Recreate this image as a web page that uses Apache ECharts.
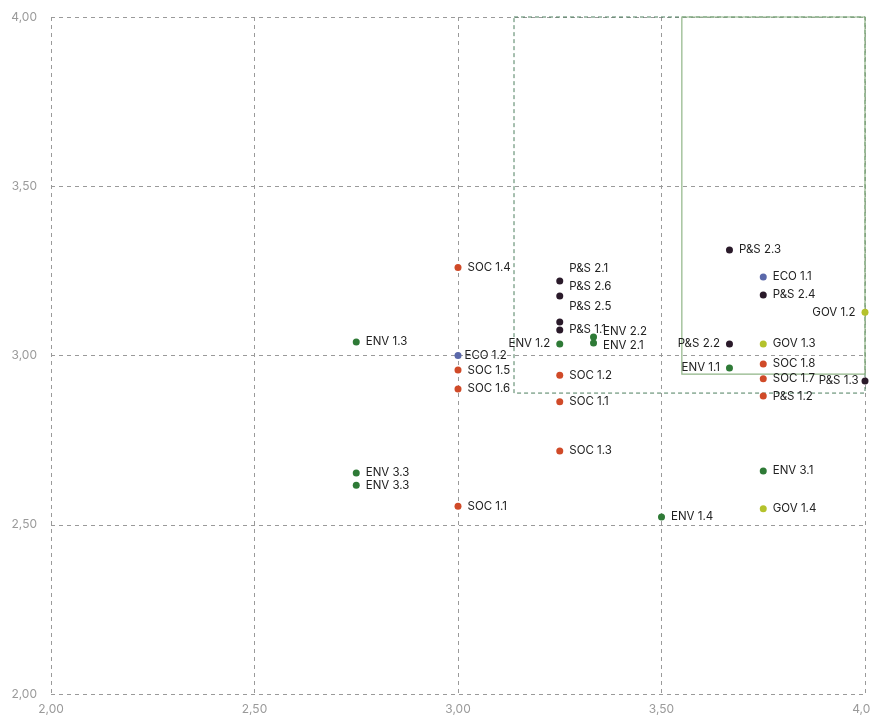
<!DOCTYPE html>
<html><head><meta charset="utf-8">
<script src="https://cdn.jsdelivr.net/npm/echarts@6/dist/echarts.min.js"></script>
<style>html,body{margin:0;padding:0;background:#fff}#c{width:870px;height:717px}</style>
</head><body><div id="c"></div>
<script>
const labels = ['SOC 1.4','P&S 2.1','P&S 2.6','P&S 2.5','P&S 1.1','ENV 1.2','ENV 2.2','ENV 2.1','ECO 1.2','SOC 1.5','SOC 1.6','SOC 1.2','SOC 1.1','SOC 1.3','ENV 1.3','ENV 3.3','ENV 3.3','SOC 1.1','ENV 1.4','ENV 3.1','GOV 1.4','P&S 2.3','ECO 1.1','P&S 2.4','GOV 1.2','P&S 2.2','GOV 1.3','ENV 1.1','SOC 1.8','SOC 1.7','P&S 1.2','P&S 1.3'];
const xValues = [3.00,3.25,3.25,3.25,3.25,3.25,3.333,3.333,3.00,3.00,3.00,3.25,3.25,3.25,2.75,2.75,2.75,3.00,3.50,3.75,3.75,3.667,3.75,3.75,4.00,3.667,3.75,3.667,3.75,3.75,3.75,4.00];
const yValues = [3.26,3.22,3.176,3.099,3.075,3.034,3.055,3.037,3.00,2.957,2.901,2.942,2.863,2.718,3.04,2.653,2.617,2.555,2.523,2.659,2.547,3.312,3.232,3.179,3.128,3.034,3.034,2.963,2.975,2.931,2.88,2.925];
const groups = ['SOC','PS','PS','PS','PS','ENV','ENV','ENV','ECO','SOC','SOC','SOC','SOC','SOC','ENV','ENV','ENV','SOC','ENV','ENV','GOV','PS','ECO','PS','GOV','PS','GOV','ENV','SOC','SOC','SOC','PS'];
const xTicks = [2.0,2.5,3.0,3.5,4.0];
const yTicks = [2.0,2.5,3.0,3.5,4.0];
const dashedBox = [[3.1376,4.0],[4.0,2.889]];
const solidBox = [[3.55,4.0],[4.0,2.945]];

const groupColors = {SOC:'#d04a28',PS:'#2a1a2a',ENV:'#2e7a36',ECO:'#5a68aa',GOV:'#b4c22c'};
// label placement tweaks by index
const labelTweaks = {
  1:{offset:[0,-12]}, 2:{offset:[0,-9]}, 3:{offset:[0,-15]}, 4:{offset:[0,-1]},
  5:{position:'left'}, 6:{offset:[0,-5]}, 7:{offset:[0,3]},
  8:{distance:3},
  24:{position:'left'}, 25:{position:'left'}, 27:{position:'left'}, 31:{position:'left', distance:3}
};
const fmt = v => v.toFixed(2).replace('.',',');

const data = labels.map((l,i)=>{
  const t = labelTweaks[i]||{};
  return {
    name:l, value:[xValues[i], yValues[i]],
    itemStyle:{color:groupColors[groups[i]], opacity:1},
    label:{show:true, formatter:l, position:t.position||'right', distance:t.distance!=null?t.distance:6, offset:t.offset||[0,0]}
  };
});

const chart = echarts.init(document.getElementById('c'));
chart.setOption({
  animation:false,
  grid:{left:51,right:5,top:17,bottom:23,containLabel:false,outerBoundsMode:'none'},
  xAxis:{type:'value',min:2,max:4,interval:0.5,
    axisLine:{show:false},axisTick:{show:false},
    axisLabel:{color:'#9a9a9a',fontSize:12,fontFamily:'Inter',margin:9,formatter:fmt},
    splitLine:{show:true,lineStyle:{color:'#9a9a9a',type:[4,4],width:1}}},
  yAxis:{type:'value',min:2,max:4,interval:0.5,
    axisLine:{show:false},axisTick:{show:false},
    axisLabel:{color:'#9a9a9a',fontSize:12,fontFamily:'Inter',margin:14,formatter:fmt},
    splitLine:{show:true,lineStyle:{color:'#9a9a9a',type:[4,4],width:1}}},
  series:[{
    type:'scatter', symbolSize:7, clip:false,
    label:{color:'#222',fontSize:11.5,fontFamily:'Inter'},
    data:data,
    markArea:{silent:true,
      data:[
        [{coord:dashedBox[0],itemStyle:{color:'rgba(0,0,0,0)',borderColor:'#4d7f5e',borderWidth:1,borderType:[4,3]}},{coord:dashedBox[1]}],
        [{coord:solidBox[0],itemStyle:{color:'rgba(0,0,0,0)',borderColor:'#90b587',borderWidth:1.2,borderType:'solid'}},{coord:solidBox[1]}]
      ]}
  }]
});
</script></body></html>
